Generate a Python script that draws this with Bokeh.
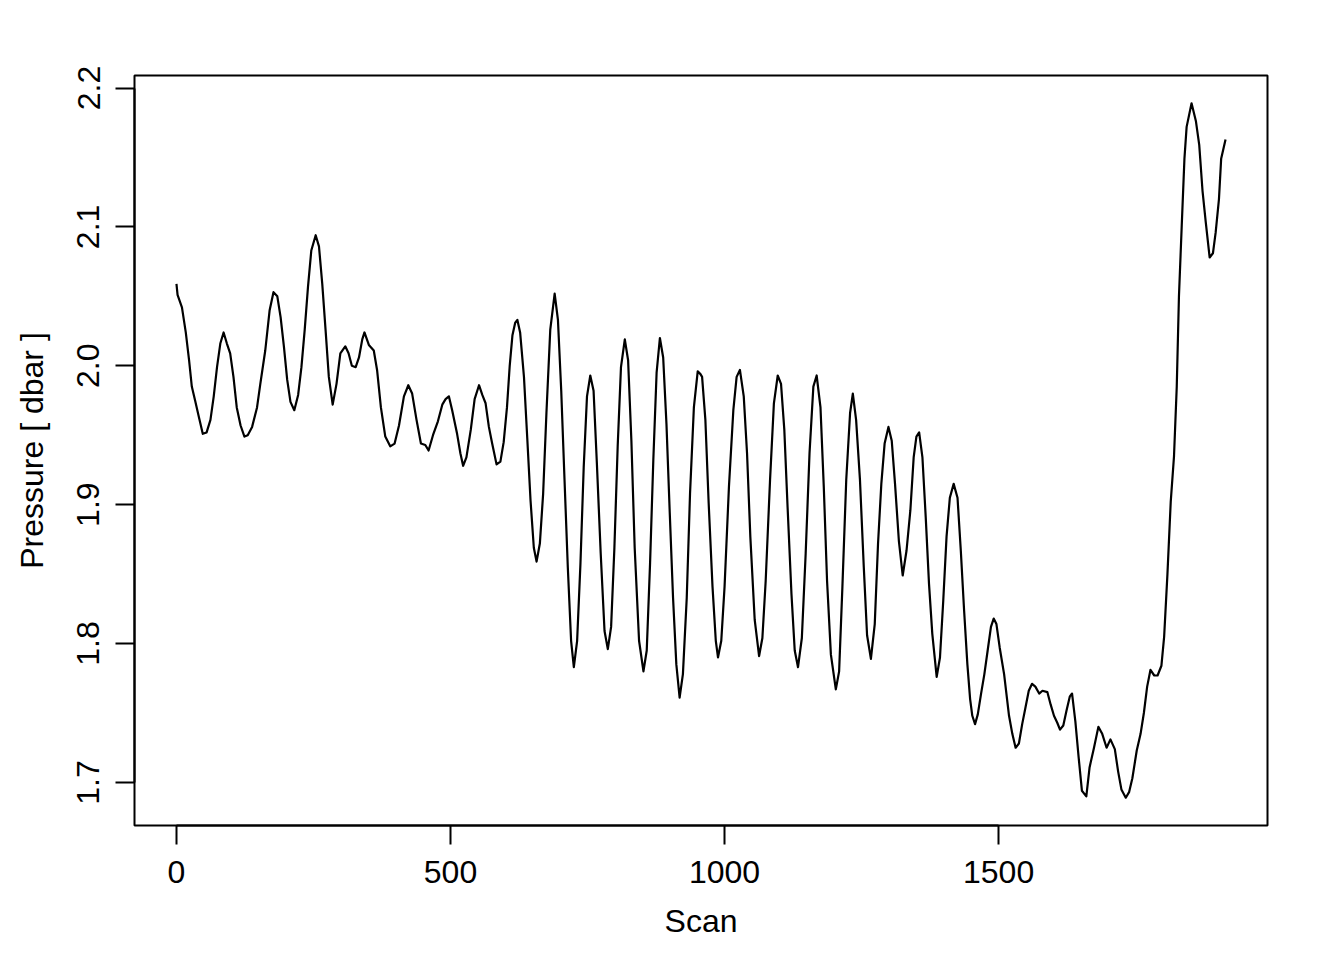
from bokeh.plotting import figure
from bokeh.embed import file_html
from bokeh.resources import INLINE
from bokeh.models import FixedTicker, Range1d, CustomJSTickFormatter

scan = [0, 2, 10, 17, 23, 28, 34, 41, 48, 55, 62, 68, 74, 80, 86, 92, 98, 104, 110, 117,
        124, 130, 138, 147, 153, 162, 170, 177, 184, 190, 196, 202, 208, 215, 222, 228, 234,
        240, 246, 254, 260, 266, 272, 278, 285, 292, 299, 308, 314, 320, 327, 333, 339, 343,
        351, 360, 366, 373, 381, 390, 398, 406, 415, 423, 430, 438, 446, 454, 460, 468, 477,
        485, 491, 497, 503, 512, 518, 523, 529, 537, 544, 552, 558, 564, 570, 576, 584, 591,
        597, 603, 608, 613, 618, 622, 627, 634, 640, 646, 652, 657, 663, 669, 675, 682, 690,
        696, 702, 708, 714, 720, 725, 731, 737, 743, 749, 755, 761, 767, 774, 781, 787, 793,
        799, 805, 811, 818, 824, 830, 836, 844, 852, 858, 864, 870, 876, 882, 888, 894, 900,
        906, 912, 918, 924, 931, 937, 944, 951, 956, 959, 965, 971, 978, 984, 988, 994, 1000,
        1008, 1016, 1022, 1028, 1035, 1041, 1047, 1055, 1063, 1069, 1075, 1083, 1090, 1097,
        1103, 1109, 1115, 1122, 1128, 1134, 1141, 1148, 1155, 1162, 1168, 1175, 1181, 1187,
        1194, 1203, 1209, 1215, 1222, 1229, 1234, 1240, 1247, 1254, 1260, 1267, 1274, 1280,
        1286, 1292, 1299, 1305, 1311, 1318, 1325, 1332, 1339, 1345, 1350, 1355, 1361, 1367,
        1373, 1379, 1387, 1393, 1399, 1405, 1411, 1418, 1425, 1431, 1437, 1443, 1448, 1452,
        1457, 1462, 1468, 1474, 1480, 1486, 1491, 1496, 1502, 1510, 1519, 1525, 1531, 1537,
        1543, 1549, 1555, 1561, 1567, 1574, 1580, 1589, 1595, 1601, 1607, 1612, 1618, 1624,
        1630, 1634, 1640, 1646, 1652, 1660, 1666, 1674, 1682, 1689, 1697, 1704, 1712, 1718,
        1724, 1732, 1738, 1744, 1752, 1759, 1765, 1771, 1777, 1784, 1790, 1797, 1802, 1808,
        1814, 1820, 1825, 1829, 1834, 1839, 1843, 1852, 1860, 1866, 1872, 1878, 1885, 1891,
        1896, 1902, 1906, 1914]

pressure = [2.059, 2.051, 2.042, 2.024, 2.004, 1.985, 1.975, 1.963, 1.951, 1.952, 1.961,
            1.978, 1.999, 2.016, 2.024, 2.016, 2.009, 1.992, 1.970, 1.957, 1.949, 1.950,
            1.956, 1.970, 1.987, 2.011, 2.040, 2.053, 2.050, 2.035, 2.014, 1.990, 1.974,
            1.968, 1.979, 1.999, 2.026, 2.057, 2.083, 2.094, 2.086, 2.059, 2.026, 1.992,
            1.972, 1.987, 2.009, 2.014, 2.009, 2.000, 1.999, 2.006, 2.019, 2.024, 2.015,
            2.011, 1.997, 1.970, 1.949, 1.942, 1.944, 1.957, 1.978, 1.986, 1.980, 1.961,
            1.944, 1.943, 1.939, 1.950, 1.960, 1.972, 1.976, 1.978, 1.968, 1.951, 1.937,
            1.928, 1.934, 1.954, 1.976, 1.986, 1.979, 1.973, 1.956, 1.944, 1.929, 1.931,
            1.945, 1.970, 2.000, 2.022, 2.031, 2.033, 2.024, 1.992, 1.948, 1.903, 1.869,
            1.859, 1.872, 1.908, 1.966, 2.026, 2.052, 2.033, 1.982, 1.918, 1.855, 1.802,
            1.783, 1.802, 1.857, 1.927, 1.978, 1.993, 1.982, 1.930, 1.865, 1.809, 1.796,
            1.812, 1.869, 1.942, 1.999, 2.019, 2.004, 1.946, 1.869, 1.802, 1.780, 1.795,
            1.857, 1.932, 1.995, 2.020, 2.006, 1.958, 1.894, 1.833, 1.785, 1.761, 1.778,
            1.833, 1.908, 1.970, 1.996, 1.994, 1.992, 1.961, 1.901, 1.841, 1.802, 1.790,
            1.802, 1.841, 1.913, 1.968, 1.992, 1.997, 1.978, 1.937, 1.877, 1.817, 1.791,
            1.804, 1.845, 1.918, 1.973, 1.993, 1.987, 1.954, 1.898, 1.836, 1.795, 1.783,
            1.804, 1.865, 1.937, 1.985, 1.993, 1.970, 1.913, 1.845, 1.792, 1.767, 1.780,
            1.841, 1.918, 1.966, 1.980, 1.961, 1.918, 1.855, 1.806, 1.789, 1.814, 1.872,
            1.915, 1.944, 1.956, 1.946, 1.915, 1.874, 1.849, 1.867, 1.896, 1.934, 1.949,
            1.952, 1.934, 1.891, 1.843, 1.807, 1.776, 1.790, 1.831, 1.877, 1.905, 1.915,
            1.905, 1.867, 1.824, 1.785, 1.760, 1.748, 1.742, 1.749, 1.764, 1.778, 1.795,
            1.812, 1.818, 1.814, 1.797, 1.778, 1.748, 1.735, 1.725, 1.728, 1.742, 1.754,
            1.766, 1.771, 1.769, 1.764, 1.766, 1.765, 1.756, 1.748, 1.743, 1.738, 1.741,
            1.752, 1.762, 1.764, 1.744, 1.718, 1.694, 1.690, 1.711, 1.725, 1.740, 1.735,
            1.725, 1.731, 1.724, 1.708, 1.695, 1.689, 1.693, 1.703, 1.723, 1.735, 1.750,
            1.769, 1.781, 1.777, 1.777, 1.784, 1.805, 1.850, 1.902, 1.935, 1.985, 2.050,
            2.100, 2.149, 2.172, 2.189, 2.176, 2.159, 2.126, 2.103, 2.078, 2.081, 2.096,
            2.120, 2.149, 2.163]

x_ticks = [0, 500, 1000, 1500]
y_ticks = [1.7, 1.8, 1.9, 2.0, 2.1, 2.2]
x_title = "Scan"
y_title = "Pressure [ dbar ]"

FONT = "Liberation Sans"

xmin, xmax = min(scan), max(scan)
ymin, ymax = min(pressure), max(pressure)
xpad = 0.04 * (xmax - xmin)
ypad = 0.04 * (ymax - ymin)

p = figure(width=1344, height=960, output_backend="svg", toolbar_location=None,
           x_range=Range1d(xmin - xpad, xmax + xpad),
           y_range=Range1d(ymin - ypad, ymax + ypad),
           min_border_left=134, min_border_right=77, min_border_top=75,
           min_border_bottom=135)

p.line(scan, pressure, line_color="black", line_width=2.2, line_join="round")

p.xgrid.visible = False
p.ygrid.visible = False
p.outline_line_color = "black"
p.outline_line_width = 2
p.background_fill_color = "white"
p.border_fill_color = "white"

p.xaxis.ticker = FixedTicker(ticks=x_ticks)
p.yaxis.ticker = FixedTicker(ticks=y_ticks)
p.yaxis.formatter = CustomJSTickFormatter(code="return tick.toFixed(1);")
p.xaxis.bounds = (x_ticks[0], x_ticks[-1])
p.yaxis.bounds = (y_ticks[0], y_ticks[-1])
p.yaxis.major_label_orientation = "vertical"

for ax in (p.xaxis[0], p.yaxis[0]):
    ax.axis_line_color = "black"
    ax.axis_line_width = 2
    ax.major_tick_line_color = "black"
    ax.major_tick_line_width = 2
    ax.major_tick_out = 19
    ax.major_tick_in = 0
    ax.minor_tick_line_color = None
    ax.major_label_text_font = FONT
    ax.major_label_text_font_size = "32px"
    ax.major_label_text_color = "black"
    ax.axis_label_text_font = FONT
    ax.axis_label_text_font_size = "32px"
    ax.axis_label_text_font_style = "normal"
    ax.axis_label_text_color = "black"

p.xaxis.axis_label = x_title
p.yaxis.axis_label = y_title
p.xaxis.major_label_standoff = 16
p.xaxis.axis_label_standoff = 17
p.yaxis.major_label_standoff = 16
p.yaxis.axis_label_standoff = 25

open("out.html", "w").write(file_html(p, INLINE))
